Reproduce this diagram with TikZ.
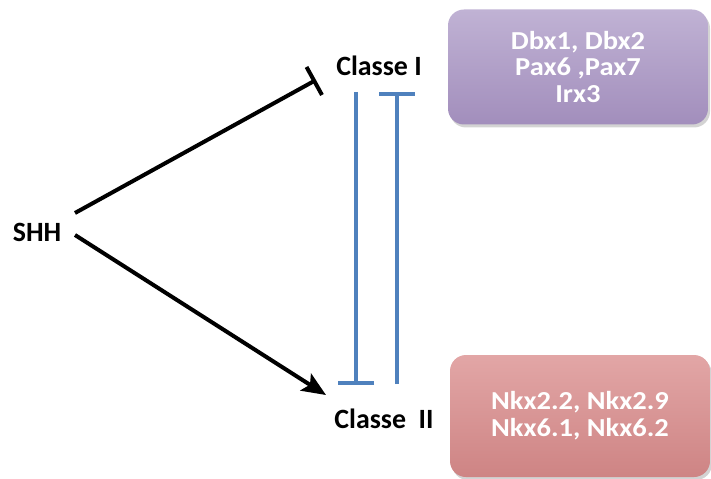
\documentclass[tikz,border=0pt]{standalone}
\usepackage{fontspec}
\setmainfont{Carlito}
\newfontfamily\genefont[FakeStretch=1.1]{Carlito}
\usetikzlibrary{arrows.meta,shadows}
\definecolor{lilactop}{RGB}{192,178,212}
\definecolor{lilacbot}{RGB}{162,142,188}
\definecolor{rosetop}{RGB}{226,166,166}
\definecolor{rosebot}{RGB}{206,132,132}
\definecolor{inhib}{RGB}{79,129,189}
\begin{document}
\begin{tikzpicture}[x=1bp,y=-1bp,
    lbl/.style={font=\bfseries\fontsize{28}{30}\selectfont, inner sep=0pt},
    genebox/.style={font=\genefont\bfseries\fontsize{26}{27}\selectfont,
        rounded corners=16bp, text=white, align=center,
        minimum width=260bp,
        drop shadow={opacity=0.35, shadow xshift=2bp, shadow yshift=-3bp}},
    link/.style={line width=4bp, black},
    block/.style={line width=4bp, inhib}]
    \useasboundingbox (0,0) rectangle (711,479);
    % labels
    \node[lbl] (shh) at (37,232) {SHH};
    \node[lbl] (c1) at (379,66) {Classe I};
    \node[lbl] (c2) at (384,419) {Classe\ \ II};
    % gene boxes
    \node[genebox, minimum height=115bp, top color=lilactop, bottom color=lilacbot]
        (g1) at (578,67) {Dbx1, Dbx2\\Pax6 ,Pax7\\Irx3};
    \node[genebox, minimum height=122bp, top color=rosetop, bottom color=rosebot]
        (g2) at (580,416) {Nkx2.2, Nkx2.9\\Nkx6.1, Nkx6.2};
    % SHH effects
    \coordinate (s1) at (75,213);
    \coordinate (s2) at (75,235);
    \coordinate (e1) at (316,80);
    \coordinate (e2) at (326,395);
    \draw[link, -{Bar[width=32bp]}] (s1) -- (e1);
    \draw[link, -{Stealth[length=24bp,width=20bp,inset=5bp]}] (s2) -- (e2);
    % mutual repression
    \coordinate (a1) at (356,92);
    \coordinate (a2) at (356,385);
    \coordinate (b1) at (397,384);
    \coordinate (b2) at (397,92);
    \draw[block, -{Bar[width=36bp]}] (a1) -- (a2);
    \draw[block, -{Bar[width=36bp]}] (b1) -- (b2);
\end{tikzpicture}
\end{document}
